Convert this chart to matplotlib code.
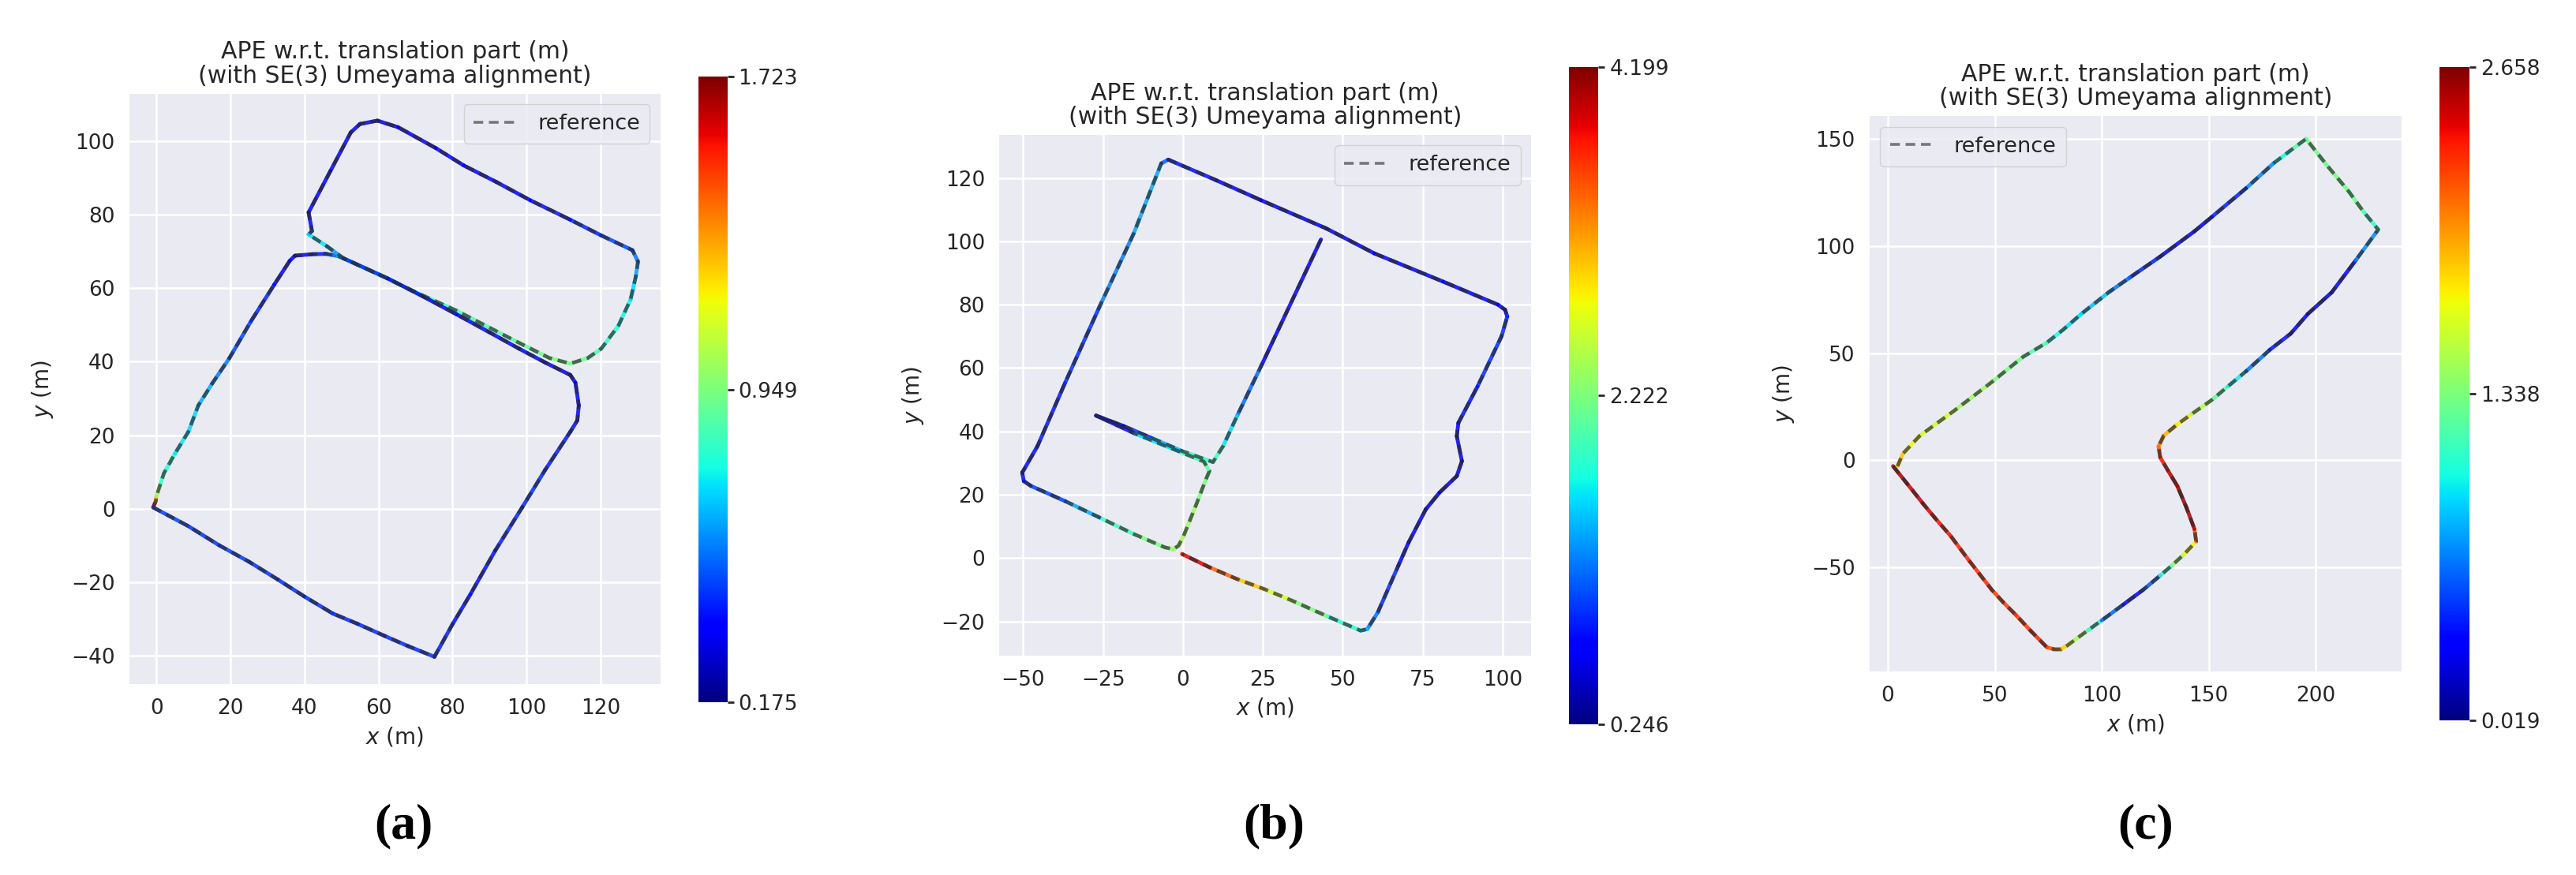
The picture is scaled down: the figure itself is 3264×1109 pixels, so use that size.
import numpy as np
import matplotlib
matplotlib.use("Agg")
import matplotlib.pyplot as plt
from matplotlib.collections import LineCollection
from matplotlib.lines import Line2D
from matplotlib.colors import Normalize
from matplotlib.cm import ScalarMappable

# --- panel (a) trajectory: x, y (m) and APE per pose (m) ---
a_x = [-0.9, -0.2, 0.0, 1.0, 2.0, 5.0, 8.6, 11.3, 15.0, 19.7, 25.5, 31.8, 36.0, 37.4, 42.0, 45.8, 49.0,
       52.0, 61.3, 71.0, 81.1, 96.9, 106.2, 111.8, 116.5, 120.2, 124.8, 128.1, 129.5, 130.1, 128.6,
       120.0, 111.8, 101.0, 91.8, 83.0, 75.5, 65.3, 59.7, 55.0, 52.5, 47.0, 41.1, 42.0, 41.1, 46.0, 50.5,
       62.5, 72.0, 81.1, 90.0, 97.9, 105.0, 111.8, 113.2, 114.1, 113.7, 111.8, 105.0, 98.8, 91.5, 84.8,
       80.0, 75.1, 68.0, 61.6, 54.5, 47.6, 40.0, 32.7, 25.0, 16.9, 8.6, -0.9]
a_y = [0.3, 2.0, 3.4, 6.5, 9.6, 15.0, 20.9, 28.1, 34.0, 41.0, 51.0, 61.0, 67.5, 68.9, 69.3, 69.4, 68.8,
       67.5, 63.2, 58.5, 53.9, 45.7, 41.0, 39.5, 41.0, 43.6, 49.8, 57.0, 63.2, 67.3, 70.4,
       74.5, 78.7, 84.0, 89.0, 93.5, 98.2, 103.9, 105.7, 104.8, 102.5, 92.0, 80.7, 75.6, 74.7, 71.5, 68.2,
       62.7, 57.8, 52.9, 48.0, 43.6, 39.8, 36.4, 34.3, 28.1, 24.0, 20.9, 10.5, 0.3, -11.5, -23.4,
       -31.5, -40.4, -37.5, -34.7, -31.5, -28.6, -24.0, -19.3, -14.5, -10.0, -4.8, 0.3]
a_err = [1.70, 1.45, 1.15, 0.85, 0.80, 0.75, 0.70, 0.68, 0.60, 0.50, 0.45, 0.40, 0.36, 0.36, 0.38, 0.42, 0.60,
         0.72, 0.76, 0.80, 0.84, 0.90, 0.93, 0.96, 0.88, 0.82, 0.76, 0.72, 0.65, 0.58, 0.50,
         0.45, 0.40, 0.38, 0.38, 0.36, 0.34, 0.32, 0.32, 0.34, 0.36, 0.36, 0.36, 0.40, 0.72, 0.72, 0.50,
         0.36, 0.34, 0.38, 0.38, 0.36, 0.34, 0.32, 0.32, 0.38, 0.38, 0.40, 0.42, 0.44, 0.40, 0.38,
         0.40, 0.44, 0.44, 0.44, 0.42, 0.44, 0.44, 0.44, 0.45, 0.46, 0.44, 0.48]
a_range = [0.175, 1.723]
a_cbar_labels = ["0.175", "0.949", "1.723"]
a_xticks = [0, 20, 40, 60, 80, 100, 120]
a_yticks = [-40, -20, 0, 20, 40, 60, 80, 100]
a_xlim = [-7.4, 136.2]
a_ylim = [-47.9, 113.1]

# --- panel (b) ---
b_x = [43.2, 24.4, 16.9, 12.6, 9.4, -0.3, -10.0, -18.6, -27.2, -15.0, -0.3, 6.5, 8.3, 7.2, 4.0, 0.2, -1.4,
       -3.0, -5.7, -15.4, -26.1, -36.9, -47.6, -49.8, -50.3, -45.5, -36.9, -26.1, -15.4, -6.8, -4.6,
       10.4, 24.4, 44.8, 59.9, 81.4, 98.6, 100.8, 101.5, 99.7, 92.2, 86.2, 85.7, 87.3, 85.7, 80.3,
       76.0, 70.6, 67.4, 61.0, 57.7, 55.6, 44.8, 34.1, 25.5, 16.9, 8.3, -0.3]
b_y = [100.6, 60.5, 44.8, 35.4, 30.3, 33.8, 38.0, 41.7, 45.0, 39.3, 33.3, 30.5, 27.5, 24.9, 16.5, 7.0, 3.9,
       2.8, 3.4, 7.6, 12.8, 18.0, 22.8, 24.3, 27.0, 35.4, 55.3, 79.4, 102.5, 124.6, 125.8,
       119.3, 113.0, 104.1, 96.2, 87.3, 80.0, 78.4, 76.3, 70.0, 54.2, 42.7, 38.5, 30.6, 25.9, 20.7,
       15.4, 4.9, -2.4, -17.1, -22.4, -22.9, -18.2, -13.4, -9.8, -6.6, -2.9, 1.3]
b_err = [0.45, 0.90, 1.40, 1.80, 2.00, 1.70, 1.20, 0.60, 0.30, 1.30, 1.90, 2.00, 2.10, 2.15, 2.30, 2.40, 2.40,
         2.35, 2.30, 2.10, 1.70, 1.10, 0.90, 0.80, 0.75, 0.80, 0.85, 1.00, 1.45, 1.30, 0.90,
         0.70, 0.65, 0.60, 0.65, 0.65, 0.70, 0.75, 0.80, 1.00, 0.85, 0.75, 0.65, 0.60, 0.60, 0.60,
         0.60, 0.70, 0.80, 1.00, 1.40, 1.60, 2.00, 2.50, 2.80, 3.20, 3.70, 4.00]
b_range = [0.246, 4.199]
b_cbar_labels = ["0.246", "2.222", "4.199"]
b_xticks = [-50, -25, 0, 25, 50, 75, 100]
b_yticks = [-20, 0, 20, 40, 60, 80, 100, 120]
b_xlim = [-57.5, 109.0]
b_ylim = [-30.7, 133.7]

# --- panel (c) ---
c_x = [2.4, 9.0, 16.5, 22.0, 29.4, 38.0, 48.6, 54.0, 59.9, 67.0, 74.3, 77.5, 80.7, 84.0, 87.2, 93.5, 99.9,
       110.0, 119.3, 127.3, 133.0, 138.5, 144.1, 143.3, 139.5, 135.3, 131.0, 127.3, 126.5, 128.9, 135.0,
       141.8, 151.4, 159.0, 167.4, 178.6, 188.3, 196.3, 207.5, 218.8, 229.2, 222.0, 215.6, 205.0, 195.5,
       188.0, 180.3, 167.4, 151.4, 143.3, 127.3, 112.8, 103.2, 90.4, 82.0, 74.3, 63.1, 48.6, 31.0, 14.9,
       7.0, 4.5]
c_y = [-2.8, -11.0, -20.4, -27.0, -35.5, -47.0, -60.6, -66.5, -72.4, -80.0, -87.4, -88.3, -88.3, -86.5, -84.1,
       -79.5, -74.9, -67.5, -60.6, -53.9, -49.0, -43.9, -38.0, -32.2, -22.0, -12.1, -5.0, 1.3, 6.4, 11.4,
       16.5, 21.4, 28.1, 34.5, 41.5, 51.6, 59.1, 68.3, 78.4, 93.5, 107.7, 116.5, 125.3, 138.0, 150.1,
       144.5, 138.7, 127.0, 113.6, 106.9, 95.1, 85.1, 78.4, 68.3, 61.0, 54.9, 48.2, 36.5, 23.1, 11.4,
       3.0, -2.8]
c_err = [2.60, 2.50, 2.45, 2.40, 2.35, 2.30, 2.30, 2.25, 2.25, 2.30, 2.35, 2.10, 1.95, 1.75, 1.60, 1.30, 0.90,
         0.35, 0.25, 0.90, 1.25, 1.60, 1.85, 2.50, 2.60, 2.60, 2.45, 2.30, 2.15, 2.00, 1.85,
         1.65, 1.35, 1.10, 0.85, 0.45, 0.35, 0.25, 0.20, 0.45, 0.95, 1.25, 1.30, 1.30, 1.30,
         1.10, 0.90, 0.50, 0.35, 0.20, 0.35, 0.50, 0.80, 0.90, 0.95, 1.05, 1.30, 1.35, 1.55, 1.65,
         1.80, 1.95]
c_range = [0.019, 2.658]
c_cbar_labels = ["0.019", "1.338", "2.658"]
c_xticks = [0, 50, 100, 150, 200]
c_yticks = [-50, 0, 50, 100, 150]
c_xlim = [-8.6, 240.2]
c_ylim = [-98.6, 160.7]

captions = ["(a)", "(b)", "(c)"]
title = "APE w.r.t. translation part (m)\n(with SE(3) Umeyama alignment)"

W, H = 3264, 1109
fig = plt.figure(figsize=(W / 100, H / 100), dpi=100)
fig.patch.set_facecolor("white")

def rect(l, t, r, b):
    return [l / W, 1 - b / H, (r - l) / W, (b - t) / H]

text_col = "#262626"
ref_col = "#2a2a2a"
ref_dash = (0, (2.6, 1.6))

panels = [
    (a_x, a_y, a_err, a_range, a_cbar_labels, a_xticks, a_yticks, a_xlim, a_ylim,
     (163.6, 118.5, 837.0, 867.3), (884.9, 97.3, 921.6, 889.8), "upper right", 511),
    (b_x, b_y, b_err, b_range, b_cbar_labels, b_xticks, b_yticks, b_xlim, b_ylim,
     (1266.1, 170.6, 1940.2, 830.6), (1987.5, 84.6, 2025.5, 918.0), "upper right", 1614),
    (c_x, c_y, c_err, c_range, c_cbar_labels, c_xticks, c_yticks, c_xlim, c_ylim,
     (2368.8, 147.2, 3043.2, 850.7), (3090.6, 84.9, 3128.9, 913.0), "upper left", 2719),
]

for i, (x, y, err, rng, clabels, xt, yt, xl, yl, abox, cbox, lloc, capx) in enumerate(panels):
    ax = fig.add_axes(rect(*abox))
    ax.set_facecolor("#EAEAF2")
    for s in ax.spines.values():
        s.set_visible(False)
    ax.grid(True, color="white", linewidth=1.8)
    ax.set_axisbelow(True)

    x = np.array(x); y = np.array(y); err = np.array(err)
    pts = np.column_stack([x, y]).reshape(-1, 1, 2)
    segs = np.concatenate([pts[:-1], pts[1:]], axis=1)
    norm = Normalize(vmin=rng[0], vmax=rng[1])
    lc = LineCollection(segs, cmap="jet", norm=norm, linewidth=3.5, alpha=0.85,
                        capstyle="round", joinstyle="round")
    lc.set_array((err[:-1] + err[1:]) / 2)
    ax.add_collection(lc)
    # reference trajectory (dashed)
    ax.plot(x, y, linestyle=ref_dash, color=ref_col, alpha=0.7, linewidth=3.3)

    ax.set_xlim(xl); ax.set_ylim(yl)
    ax.set_xticks(xt); ax.set_yticks(yt)
    ax.tick_params(length=0, labelsize=19, labelcolor=text_col, pad=13)
    ax.set_xlabel("$x$ (m)", fontsize=20, color=text_col, labelpad=6)
    ax.set_ylabel("$y$ (m)", fontsize=20, color=text_col, labelpad=14)
    ax.set_title(title, fontsize=21.5, color=text_col, pad=10, linespacing=1.05)

    handle = Line2D([], [], linestyle=(0, (3.4, 2.0)), color=ref_col, alpha=0.6, linewidth=2.6)
    leg = ax.legend([handle], ["reference"], loc=lloc, fontsize=19.5, frameon=True,
                    facecolor="#EAEAF2", edgecolor="#cccccc", framealpha=0.8,
                    borderpad=0.45, handlelength=2.0, handletextpad=1.0)
    for t in leg.get_texts():
        t.set_color(text_col)

    cax = fig.add_axes(rect(*cbox))
    sm = ScalarMappable(norm=norm, cmap="jet")
    cb = fig.colorbar(sm, cax=cax, ticks=[rng[0], (rng[0] + rng[1]) / 2, rng[1]])
    cb.ax.set_yticklabels(clabels)
    cb.outline.set_visible(False)
    cb.ax.tick_params(length=6, width=2, color=text_col, labelsize=19, labelcolor=text_col, pad=4)

    fig.text(capx / W, 1 - 1047 / H, captions[i], ha="center", va="center",
             fontsize=46, fontweight="bold", family=["Liberation Serif", "DejaVu Serif"])

fig.savefig("out.png", dpi=100, facecolor="white")
